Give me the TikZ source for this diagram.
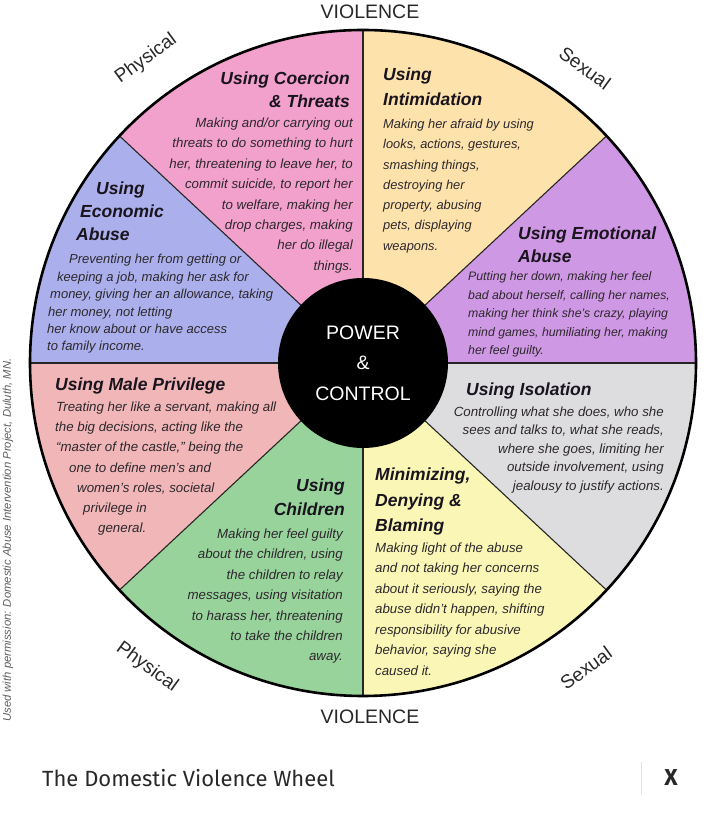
\documentclass[tikz,border=0pt]{standalone}
\usepackage{fontspec}
\setmainfont{Liberation Sans}
\newfontfamily\captionfont{Fira Sans}
\usetikzlibrary{positioning}
\definecolor{CoercionFill}{RGB}{242,161,204}
\definecolor{IntimFill}{RGB}{253,226,172}
\definecolor{EmotionFill}{RGB}{207,152,228}
\definecolor{IsolFill}{RGB}{221,221,223}
\definecolor{MinimFill}{RGB}{250,247,182}
\definecolor{ChildFill}{RGB}{152,211,156}
\definecolor{MaleFill}{RGB}{241,182,184}
\definecolor{EconFill}{RGB}{171,176,236}
\definecolor{HeadText}{RGB}{25,20,30}
\definecolor{BodyText}{RGB}{45,40,45}
\definecolor{RimText}{RGB}{40,40,40}
\definecolor{CreditText}{RGB}{95,95,95}
\definecolor{CaptionText}{RGB}{40,40,40}
\definecolor{SepGray}{RGB}{225,225,225}
\tikzset{
  every node/.style={inner sep=0pt},
  head/.style={font=\bfseries\itshape\fontsize{17.5}{#1}\selectfont, text=HeadText},
  head/.default=23,
  body/.style 2 args={font=\itshape\fontsize{#1}{#2}\selectfont, text=BodyText},
  rim/.style={font=\fontsize{19}{19}\selectfont, text=RimText},
  spoke/.style={line width=1.1pt, black!85},
  credit/.style={font=\itshape\fontsize{11.3}{11.3}\selectfont, text=CreditText}
}

\begin{document}
\begin{tikzpicture}[x=1pt,y=1pt]

% Canvas
\useasboundingbox (0,0) rectangle (717,814);
\fill[white] (0,0) rectangle (717,814);
\coordinate (c) at (363,451);

% Wheel sectors (diagonals sit at 43 degrees, not 45)
\foreach \a/\b/\col in {0/43/EmotionFill,43/90/IntimFill,90/137/CoercionFill,137/180/EconFill,
                        180/223/MaleFill,223/270/ChildFill,270/317/MinimFill,317/360/IsolFill}
  \fill[\col] (c) -- ++(\a:333) arc[start angle=\a, end angle=\b, radius=333] -- cycle;
\foreach \a in {0,43,90,137,180,223,270,317}
  \draw[spoke] (c) -- ++(\a:333);
\draw[line width=2.6pt] (c) circle[radius=333];

% Hub
\node[circle, fill=black, minimum size=170pt, align=center, text=white,
      font=\fontsize{19.5}{30.5}\selectfont] (hub) at (c) {POWER\\\&\\CONTROL};

% Using Coercion & Threats (base = last line)
\node[head, align=right, anchor=base east] (coerH) at (350,706) {Using Coercion\\\& Threats};
\node[body={13.3}{20.4}, align=right, anchor=base east] (coerB) at (353,543.7)
  {Making and/or carrying out\\threats to do something to hurt\\her, threatening to leave her, to\\commit suicide, to report her\\to welfare, making her\\drop charges, making\\her do illegal\\things.};

% Using Intimidation
\node[head=25, align=left, anchor=base west] (intiH) at (383,708) {Using\\Intimidation};
\node[body={12.85}{20.3}, align=left, anchor=base west] (intiB) at (383,563.7)
  {Making her afraid by using\\looks, actions, gestures,\\smashing things,\\destroying her\\property, abusing\\pets, displaying\\weapons.};

% Using Emotional Abuse
\node[head, align=left, anchor=base west] (emoH) at (518,551) {Using Emotional\\Abuse};
\node[body={12.3}{18.5}, align=left, anchor=base west] (emoB) at (468,459)
  {Putting her down, making her feel\\bad about herself, calling her names,\\making her think she's crazy, playing\\mind games, humiliating her, making\\her feel guilty.};

% Using Economic Abuse
\node[head, align=left, anchor=base west] (econH) at (76,573)
  {\hspace*{20pt}Using\\\hspace*{4pt}Economic\\Abuse};
\node[body={13}{17.4}, align=left, anchor=base west] (econB) at (47,463)
  {\hspace*{22pt}Preventing her from getting or\\\hspace*{10pt}keeping a job, making her ask for\\\hspace*{3pt}money, giving her an allowance, taking\\\hspace*{1pt}her money, not letting\\her know about or have access\\to family income.};

% Using Male Privilege
\node[head, anchor=base west] (maleH) at (55,423) {Using Male Privilege};
\node[body={13.3}{20.2}, align=left, anchor=base west] (maleB) at (55,281.3)
  {\hspace*{1pt}Treating her like a servant, making all\\the big decisions, acting like the\\\hspace*{1pt}``master of the castle,'' being the\\\hspace*{14pt}one to define men's and\\\hspace*{22pt}women's roles, societal\\\hspace*{28pt}privilege in\\\hspace*{43pt}general.};

% Using Isolation
\node[head, anchor=base west] (isoH) at (466,418) {Using Isolation};
\node[body={13.3}{18.5}, align=right, anchor=base east] (isoB) at (664,323.5)
  {Controlling what she does, who she\\sees and talks to, what she reads,\\where she goes, limiting her\\outside involvement, using\\jealousy to justify actions.};

% Minimizing, Denying & Blaming
\node[head=25.5, align=left, anchor=base west] (minH) at (375,282)
  {Minimizing,\\Denying \&\\Blaming};
\node[body={13.3}{20.5}, align=left, anchor=base west] (minB) at (375,138.5)
  {Making light of the abuse\\and not taking her concerns\\about it seriously, saying the\\abuse didn't happen, shifting\\responsibility for abusive\\behavior, saying she\\caused it.};

% Using Children
\node[head=24, align=right, anchor=base east] (chilH) at (345,298) {Using\\Children};
\node[body={13.3}{20.4}, align=right, anchor=base east] (chilB) at (343,153.1)
  {Making her feel guilty\\about the children, using\\the children to relay\\messages, using visitation\\to harass her, threatening\\to take the children\\away.};

% Rim labels
\node[rim, font=\fontsize{19.5}{19.5}\selectfont] (vioTop) at (370,802) {VIOLENCE};
\node[rim, font=\fontsize{19.5}{19.5}\selectfont] (vioBot) at (370,97) {VIOLENCE};
\node[rim, rotate=36] (physTop) at (146,755) {Physical};
\node[rim, rotate=-36] (sexTop) at (585,746) {Sexual};
\node[rim, rotate=-36] (physBot) at (147,147) {Physical};
\node[rim, rotate=36] (sexBot) at (586,146) {Sexual};

% Credit line
\node[credit, rotate=90] (credit) at (8,274)
  {Used with permission: Domestic Abuse Intervention Project, Duluth, MN.};

% Caption bar
\node[anchor=west, font=\captionfont\fontsize{22}{22}\selectfont, text=CaptionText]
  (caption) at (42,36) {The Domestic Violence Wheel};
\draw[SepGray, line width=1pt] (641,19) -- (641,52);
\node[font=\captionfont\bfseries\fontsize{23}{23}\selectfont, text=CaptionText]
  (close) at (671,36) {X};

\end{tikzpicture}
\end{document}
